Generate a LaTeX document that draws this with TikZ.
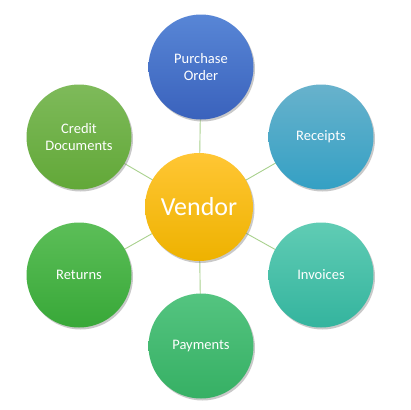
\documentclass[tikz,border=0pt]{standalone}
\usepackage{fontspec}
\setmainfont{Carlito}
\usetikzlibrary{shadows,backgrounds}
\definecolor{linkgreen}{HTML}{A9D18E}
\begin{document}
\begin{tikzpicture}[x=1pt,y=-1pt,
  bubble/.style={circle,minimum size=105pt,inner sep=0pt,align=center,text=white,
    font=\fontsize{14.5}{16.5}\selectfont,
    drop shadow={shadow xshift=1.5pt,shadow yshift=-2pt,opacity=0.35,fill=black!60}},
  link/.style={draw=linkgreen,line width=0.9pt}]
\useasboundingbox (0,0) rectangle (410,410);
\node[bubble,top color={rgb,255:red,255;green,198;blue,52},bottom color={rgb,255:red,238;green,178;blue,0},
  minimum size=108pt,font=\fontsize{26}{28}\selectfont] (v) at (199,207) {Vendor};
\node[bubble,top color={rgb,255:red,88;green,134;blue,214},bottom color={rgb,255:red,58;green,98;blue,188}] (po) at (201,67) {Purchase\\Order};
\node[bubble,top color={rgb,255:red,104;green,178;blue,204},bottom color={rgb,255:red,52;green,160;blue,196}] (rc) at (321,137) {Receipts};
\node[bubble,top color={rgb,255:red,96;green,204;blue,180},bottom color={rgb,255:red,52;green,180;blue,158}] (iv) at (321,275) {Invoices};
\node[bubble,top color={rgb,255:red,84;green,196;blue,128},bottom color={rgb,255:red,54;green,176;blue,100}] (pm) at (201,346) {Payments};
\node[bubble,top color={rgb,255:red,92;green,190;blue,88},bottom color={rgb,255:red,56;green,168;blue,56}] (rt) at (79,275) {Returns};
\node[bubble,top color={rgb,255:red,126;green,186;blue,90},bottom color={rgb,255:red,98;green,168;blue,56}] (cd) at (79,137) {Credit\\Documents};
\begin{scope}[on background layer]
\fill[white] (0,0) rectangle (410,410);
\foreach \n in {po,rc,iv,pm,rt,cd} \draw[link] (v.center) -- (\n.center);
\end{scope}
\end{tikzpicture}
\end{document}
